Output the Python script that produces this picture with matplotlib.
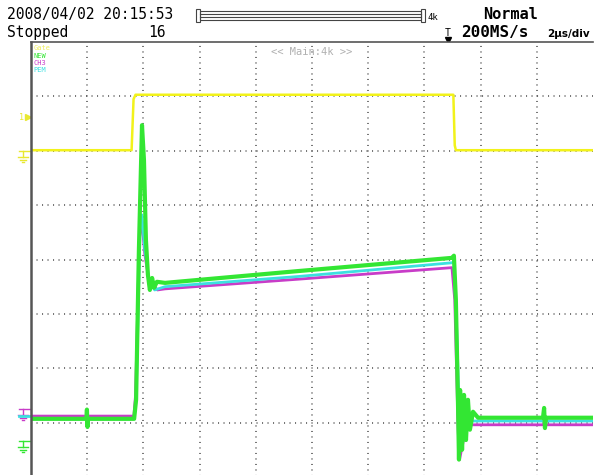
import matplotlib
matplotlib.use("Agg")
import matplotlib.pyplot as plt
from matplotlib.patches import Rectangle

# time in us (2 us/div, 10 div), amplitude in divisions (-4..4)
time_gate = [0, 3.58, 3.65, 3.72, 15.03, 15.08, 15.12, 20.0]
gate = [2.01, 2.01, 2.95, 3.03, 3.03, 2.10, 2.01, 2.01]

time_new = [0, 1.97, 1.99, 2.01, 2.03, 3.67, 3.74, 3.84, 3.95, 4.02, 4.09,
            4.16, 4.23, 4.31, 4.38, 4.48, 4.77, 9.57, 14.98, 15.05, 15.12,
            15.20, 15.23, 15.27, 15.34, 15.41, 15.48, 15.55, 15.62, 15.73,
            15.91, 18.22, 18.26, 18.29, 18.33, 20.0]
new = [-2.93, -2.93, -2.76, -3.08, -2.93, -2.93, -2.58, 0.18, 2.47, 1.83, 0.36,
       -0.28, -0.56, -0.34, -0.52, -0.41, -0.43, -0.21, 0.03, 0.07, -0.74,
       -2.76, -3.68, -2.40, -3.50, -2.49, -3.32, -2.58, -3.13, -2.80, -2.91,
       -2.91, -2.73, -3.10, -2.91, -2.91]

time_pem = [0, 3.67, 3.74, 3.88, 3.95, 4.05, 4.20, 4.40, 4.77, 9.57, 14.98,
            15.05, 15.15, 15.25, 15.40, 15.60, 20.0]
pem = [-2.93, -2.93, -2.58, 0.54, 0.82, 0.18, -0.38, -0.56, -0.50, -0.31,
       -0.06, -0.04, -1.29, -2.99, -3.02, -2.97, -2.97]

time_ch3 = [0, 3.66, 3.72, 3.86, 3.94, 4.05, 4.20, 4.50, 4.77, 9.57, 14.98,
            15.08, 15.20, 15.25, 15.50, 20.0]
ch3 = [-2.88, -2.88, -2.50, 0.40, 0.73, 0.10, -0.40, -0.56, -0.54, -0.36,
       -0.15, -0.74, -3.13, -3.68, -3.04, -3.04]

channel_names = ["Gate", "NEW", "CH3", "PEM"]
channel_colors = ["#f0f060", "#33e633", "#c83cc8", "#3ce0e0"]

fig = plt.figure(figsize=(5.94, 4.75), dpi=100)

# screen decorations in pixel coordinates
deco = fig.add_axes([0, 0, 1, 1])
deco.set_xlim(0, 594)
deco.set_ylim(475, 0)
deco.axis("off")

mono = "DejaVu Sans Mono"
deco.text(7, 19, "2008/04/02 20:15:53", family=mono, fontsize=10.5, va="baseline")
deco.text(7, 37, "Stopped", family=mono, fontsize=10.5, va="baseline")
deco.text(148, 37, "16", family=mono, fontsize=10.5, va="baseline")
deco.text(511, 19, "Normal", family=mono, fontsize=11, weight="bold",
          va="baseline", ha="center")
deco.text(461, 37, "200MS/s", family=mono, fontsize=11.5, weight="bold",
          va="baseline")
deco.text(547, 37, "2µs/div", family="DejaVu Sans", fontsize=7.5,
          weight="bold", va="baseline")
deco.text(448, 36, "T", family=mono, fontsize=7, va="baseline", ha="center")
deco.plot([448], [39.5], marker="v", color="black", markersize=4)
deco.text(428, 17, "4k", family=mono, fontsize=6.5, va="center")

# record length bar
deco.add_patch(Rectangle((196, 9), 4, 13, fill=False, ec="#444", lw=0.8))
deco.add_patch(Rectangle((421, 9), 4, 13, fill=False, ec="#444", lw=0.8))
deco.add_patch(Rectangle((200, 11), 221, 9, fill=False, ec="#444", lw=0.8))
deco.plot([200, 421], [14, 14], color="#444", lw=0.8)
deco.plot([200, 421], [17, 17], color="#444", lw=0.8)


def ground(x, y, color):
    deco.plot([x, 31], [y, y], color=color, lw=1)
    deco.plot([x + 4, x + 4], [y, y + 6], color=color, lw=1)
    deco.plot([x - 1, x + 9], [y + 6, y + 6], color=color, lw=1)
    deco.plot([x + 1, x + 7], [y + 8.5, y + 8.5], color=color, lw=1)
    deco.plot([x + 3, x + 5], [y + 11, y + 11], color=color, lw=1)


# channel offset markers on the left edge
deco.text(22, 117, "1", family=mono, fontsize=6, color="#e8e830",
          va="center", ha="center")
deco.plot([28], [117], marker=">", color="#e8e830", markersize=4)
ground(19, 151, "#e8e830")
ground(19, 409, "#c83cc8")
deco.plot([19, 31], [416, 416], color="#3ce0e0", lw=2)
ground(19, 441, "#33e633")

# waveform area
ax = fig.add_axes([31 / 594, -2 / 475, 562 / 594, 435 / 475])
ax.set_facecolor("white")
ax.set_xlim(0, 20)
ax.set_ylim(-4, 4)
ax.set_xticks(range(2, 20, 2))
ax.set_yticks(range(-3, 4))
ax.tick_params(length=0, labelbottom=False, labelleft=False)
ax.grid(True, color="#505050", linestyle=(0, (0.7, 2.9)), linewidth=1.1)
ax.spines["right"].set_visible(False)
ax.spines["bottom"].set_visible(False)
ax.spines["left"].set_color("#555555")
ax.spines["left"].set_linewidth(1.8)
ax.spines["top"].set_color("#555555")
ax.spines["top"].set_linewidth(1.2)

ax.plot(time_gate, gate, color="#f2f21a", lw=1.8)
ax.plot(time_ch3, ch3, color="#c83cc8", lw=2)
ax.plot(time_pem, pem, color="#3ce0e0", lw=2)
ax.plot(time_new, new, color="#33e633", lw=3)

for i, (name, col) in enumerate(zip(channel_names, channel_colors)):
    ax.text(0.004, 0.993 - i * 0.0172, name, transform=ax.transAxes,
            family=mono, fontsize=5, color=col, va="top")

ax.text(0.5, 0.988, "<< Main:4k >>", transform=ax.transAxes, family=mono,
        fontsize=7.5, color="#b0b0b0", va="top", ha="center")

fig.savefig("out.png", dpi=100)
